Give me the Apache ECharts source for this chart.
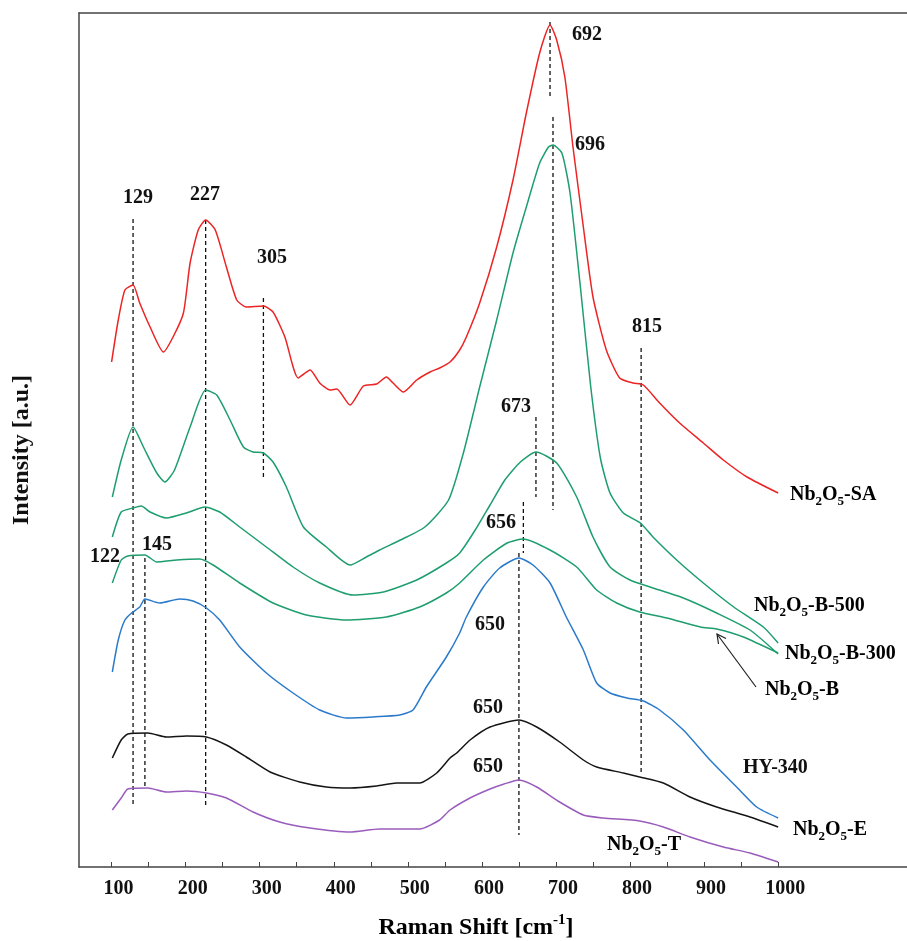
<!DOCTYPE html>
<html>
<head>
<meta charset="utf-8">
<script src="https://cdn.jsdelivr.net/npm/echarts@6/dist/echarts.min.js"></script>
<style>
  html, body { margin: 0; padding: 0; background: #fff; }
  #chart { width: 907px; height: 941px; }
</style>
</head>
<body>
<div id="chart"></div>
<script>
// Raman spectra, [Raman shift (cm-1), intensity (a.u., stacked offset)]
const spectrumSA = [[100,505],[109,547],[118,577],[129,582],[138,564],[152,540],[170,515],[183,530],[197,554],[206,604],[217,637],[227,647],[240,637],[255,600],[269,567],[282,560],[305,561],[318,555],[334,530],[352,489],[368,497],[381,484],[395,477],[404,478],[422,462],[440,481],[458,483],[471,490],[480,484],[494,475],[512,487],[530,495],[543,499],[557,505],[570,517],[579,530],[597,564],[620,620],[642,687],[660,754],[678,814],[692,842],[701,827],[712,790],[723,720],[737,640],[750,570],[768,517],[786,489],[804,484],[818,482],[840,464],[867,444],[899,424],[926,407],[958,390],[1000,374]];
const spectrumB500 = [[101,370],[113,407],[129,440],[143,420],[161,394],[172,385],[185,397],[206,440],[227,477],[242,472],[260,447],[278,420],[291,415],[305,414],[318,405],[336,380],[359,340],[390,320],[422,302],[444,310],[462,317],[490,327],[523,340],[555,367],[575,414],[597,480],[620,547],[642,614],[660,660],[678,704],[690,720],[696,722],[708,714],[719,674],[733,580],[747,480],[760,409],[773,374],[791,354],[814,344],[831,330],[863,307],[899,284],[940,260],[980,240],[1000,224]];
const spectrumB300 = [[101,330],[113,355],[129,359],[140,361],[152,355],[174,349],[201,354],[226,360],[246,355],[273,340],[309,320],[345,300],[381,284],[426,272],[467,275],[512,287],[552,304],[570,314],[591,337],[611,362],[631,387],[652,405],[673,415],[701,404],[728,370],[750,330],[773,300],[800,287],[827,280],[872,269],[917,254],[962,237],[1000,213]];
const spectrumB = [[101,284],[113,307],[122,311],[145,312],[161,305],[188,307],[219,308],[237,302],[273,284],[318,264],[363,252],[417,247],[471,250],[516,260],[552,274],[570,284],[602,307],[634,324],[656,328],[692,317],[728,300],[755,277],[782,264],[813,255],[850,249],[895,240],[917,238],[953,230],[1000,214]];
const spectrumHY340 = [[101,195],[109,227],[118,247],[127,254],[138,260],[145,268],[165,264],[192,268],[210,266],[228,259],[246,247],[273,220],[309,194],[345,174],[381,157],[417,149],[453,150],[489,152],[507,157],[525,180],[552,210],[570,234],[579,250],[602,280],[624,299],[650,309],[669,302],[692,284],[714,250],[737,217],[755,184],[773,174],[796,169],[818,166],[840,157],[872,137],[908,107],[944,80],[971,60],[1000,49]];
const spectrumE = [[101,109],[113,127],[122,133],[149,134],[174,130],[201,131],[228,130],[255,122],[282,110],[314,95],[354,85],[390,80],[422,79],[458,81],[485,84],[516,84],[539,94],[557,109],[566,114],[584,127],[611,140],[650,147],[674,140],[705,125],[737,107],[755,100],[791,94],[813,90],[845,84],[881,70],[917,60],[962,50],[1000,40]];
const spectrumT = [[101,57],[113,69],[122,78],[149,79],[174,75],[201,76],[228,74],[255,69],[291,55],[327,45],[368,39],[422,35],[462,38],[516,38],[543,47],[557,57],[584,69],[611,78],[630,83],[650,87],[674,80],[705,65],[737,52],[764,49],[813,46],[845,40],[881,30],[926,20],[962,14],[1000,5]];

// Peak guide lines: [shift, intensity from, intensity to]
const peakGuides = [[129,648,62],[145,309,80],[227,647,62],[305,569,390],[692,845,769],[696,750,357],[673,450,370],[656,365,314],[650,314,32],[815,519,92]];

const tickValues = [100,150,200,250,300,350,400,450,500,550,600,650,700,750,800,850,900,950,1000];
const labelValues = [100,200,300,400,500,600,700,800,900,1000];

const SERIF = '"Liberation Serif", "Times New Roman", serif';
const X_MIN = 56, X_MAX = 1174;

const seriesDefs = [
  { name: 'Nb2O5-SA', data: spectrumSA, color: '#ec2424' },
  { name: 'Nb2O5-B-500', data: spectrumB500, color: '#1e9e6e' },
  { name: 'Nb2O5-B-300', data: spectrumB300, color: '#1e9e6e' },
  { name: 'Nb2O5-B', data: spectrumB, color: '#1e9e6e' },
  { name: 'HY-340', data: spectrumHY340, color: '#2a7acb' },
  { name: 'Nb2O5-E', data: spectrumE, color: '#151515' },
  { name: 'Nb2O5-T', data: spectrumT, color: '#9a5cbc' }
];

const series = seriesDefs.map(s => ({
  name: s.name,
  type: 'line',
  data: s.data,
  showSymbol: false,
  smooth: 0.2,
  lineStyle: { color: s.color, width: 1.5 },
  z: 3,
  silent: true
}));

peakGuides.forEach(g => {
  series.push({
    type: 'line',
    data: [[g[0], g[1]], [g[0], g[2]]],
    showSymbol: false,
    lineStyle: { color: '#111', width: 1.3, type: [4, 3] },
    z: 2,
    silent: true
  });
});

const richBase = {
  n: { fontFamily: SERIF, fontWeight: 'bold', fontSize: 20, lineHeight: 26, color: '#111' },
  s: { fontFamily: SERIF, fontWeight: 'bold', fontSize: 13, lineHeight: 14, verticalAlign: 'bottom', color: '#111' },
  t: { fontFamily: SERIF, fontWeight: 'bold', fontSize: 24, lineHeight: 30, color: '#111' },
  p: { fontFamily: SERIF, fontWeight: 'bold', fontSize: 15, lineHeight: 16, verticalAlign: 'top', color: '#111' }
};

function plainText(x, y, text, align) {
  return {
    type: 'text', x: x, y: y, z: 10,
    style: {
      text: text, fill: '#111', font: 'bold 20px ' + SERIF,
      textAlign: align || 'center', textVerticalAlign: 'middle'
    }
  };
}
function nbLabel(x, y, suffix) {
  return {
    type: 'text', x: x, y: y, z: 10,
    style: {
      text: '{n|Nb}{s|2}{n|O}{s|5}{n|' + suffix + '}',
      rich: richBase, textAlign: 'left', textVerticalAlign: 'middle'
    }
  };
}

const graphics = [
  plainText(138, 198, '129'),
  plainText(205, 195, '227'),
  plainText(272, 258, '305'),
  plainText(587, 35, '692'),
  plainText(590, 145, '696'),
  plainText(647, 327, '815'),
  plainText(516, 407, '673'),
  plainText(501, 523, '656'),
  plainText(490, 625, '650'),
  plainText(488, 708, '650'),
  plainText(488, 767, '650'),
  plainText(105, 557, '122'),
  plainText(157, 545, '145'),
  nbLabel(790, 495, '-SA'),
  nbLabel(754, 606, '-B-500'),
  nbLabel(785, 654, '-B-300'),
  nbLabel(765, 690, '-B'),
  plainText(743, 768, 'HY-340', 'left'),
  nbLabel(793, 830, '-E'),
  nbLabel(607, 845, '-T'),
  // arrow pointing at the Nb2O5-B trace
  {
    type: 'polyline', z: 10,
    shape: { points: [[756, 687], [717, 634]] },
    style: { stroke: '#222', lineWidth: 1.2, fill: null }
  },
  {
    type: 'polyline', z: 10,
    shape: { points: [[718.5, 644], [717, 634], [726, 638.5]] },
    style: { stroke: '#222', lineWidth: 1.2, fill: null }
  },
  // axis titles
  {
    type: 'text', x: 476, y: 928, z: 10,
    style: {
      text: '{t|Raman Shift [cm}{p|-1}{t|]}',
      rich: richBase, textAlign: 'center', textVerticalAlign: 'middle'
    }
  },
  {
    type: 'text', x: 22, y: 450, rotation: Math.PI / 2, z: 10,
    style: {
      text: 'Intensity [a.u.]', fill: '#111', font: 'bold 24px ' + SERIF,
      textAlign: 'center', textVerticalAlign: 'middle'
    }
  }
];

const chart = echarts.init(document.getElementById('chart'), null, { renderer: 'canvas' });
chart.setOption({
  animation: false,
  backgroundColor: '#fff',
  grid: { left: 79, top: 13, right: 0, bottom: 74 },
  xAxis: [
    {
      type: 'value', min: X_MIN, max: X_MAX,
      axisLine: { show: true, onZero: false, lineStyle: { color: '#444', width: 1.5 } },
      axisTick: { show: true, inside: true, length: 5, customValues: tickValues, lineStyle: { color: '#444', width: 1 } },
      axisLabel: {
        show: true, customValues: labelValues, margin: 12,
        formatter: v => String(v),
        fontFamily: SERIF, fontWeight: 'bold', fontSize: 20, color: '#111',
        padding: [0, 0, 0, 14]
      },
      splitLine: { show: false }
    },
    {
      // upper frame line
      type: 'value', position: 'top', min: X_MIN, max: X_MAX,
      axisLine: { show: true, onZero: false, lineStyle: { color: '#444', width: 1.5 } },
      axisTick: { show: false },
      axisLabel: { show: false },
      splitLine: { show: false }
    }
  ],
  yAxis: {
    type: 'value', min: 0, max: 854,
    axisLine: { show: true, lineStyle: { color: '#444', width: 1.5 } },
    axisTick: { show: false },
    axisLabel: { show: false },
    splitLine: { show: false }
  },
  series: series,
  graphic: graphics
});
</script>
</body>
</html>
